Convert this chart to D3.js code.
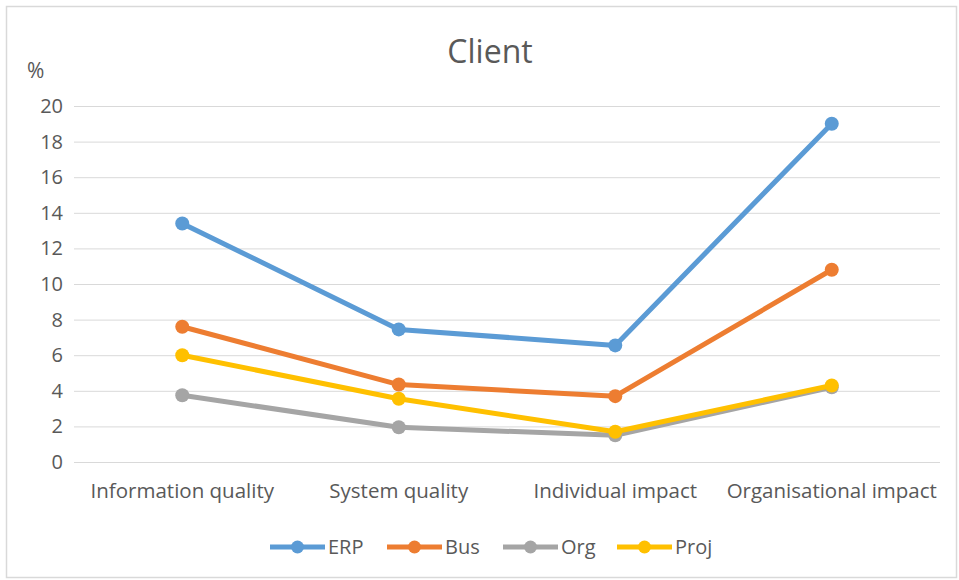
<!DOCTYPE html>
<html>
<head>
<meta charset="utf-8">
<script src="https://cdnjs.cloudflare.com/ajax/libs/d3/7.8.5/d3.min.js"></script>
<style>
  body { margin: 0; background: #fff; }
  text { font-family: "Open Sans", "Liberation Sans", sans-serif; fill: #595959; }
</style>
</head>
<body>
<div id="chart"></div>
<script>
// values
var categories = ["Information quality", "System quality", "Individual impact", "Organisational impact"];
var seriesNames = ["ERP", "Bus", "Org", "Proj"];
var erp = [13.4, 7.45, 6.55, 19.0];
var bus = [7.6, 4.35, 3.7, 10.8];
var org = [3.75, 1.95, 1.5, 4.2];
var proj = [6.0, 3.55, 1.7, 4.3];
var yTicks = [0, 2, 4, 6, 8, 10, 12, 14, 16, 18, 20];
var colors = ["#5b9bd5", "#ed7d31", "#a5a5a5", "#ffc000"];

var series = [erp, bus, org, proj].map(function(v, i) {
  return { name: seriesNames[i], values: v, color: colors[i] };
});

var W = 959, H = 580;
var margin = { top: 106, right: 19, bottom: 118, left: 74 };
var width = W - margin.left - margin.right,
    height = H - margin.top - margin.bottom;

var svg = d3.select("#chart").append("svg")
  .attr("width", W)
  .attr("height", H);

// chart border
svg.append("rect")
  .attr("x", 6.5).attr("y", 6.5)
  .attr("width", W - 9).attr("height", H - 9)
  .attr("fill", "none")
  .attr("stroke", "#d9d9d9")
  .attr("stroke-width", 1.5);

var g = svg.append("g")
  .attr("transform", "translate(" + margin.left + "," + margin.top + ")");

var x = d3.scaleBand().domain(categories).range([0, width]);
var y = d3.scaleLinear().domain([0, 20]).range([height, 0]);

// gridlines
g.append("g")
  .selectAll("line")
  .data(yTicks)
  .enter().append("line")
  .attr("x1", 0).attr("x2", width)
  .attr("y1", function(d) { return y(d) + 0.5; })
  .attr("y2", function(d) { return y(d) + 0.5; })
  .attr("stroke", "#d9d9d9")
  .attr("stroke-width", 1);

// y axis labels
var yAxis = d3.axisLeft(y).tickValues(yTicks).tickSize(0).tickPadding(11);
g.append("g").call(yAxis)
  .call(function(s) { s.select(".domain").remove(); })
  .selectAll("text")
  .style("font-size", "20px")
  .style("font-family", "'Open Sans', sans-serif")
  .attr("fill", "#595959");

// x axis labels
var xAxis = d3.axisBottom(x).tickSize(0).tickPadding(21);
g.append("g")
  .attr("transform", "translate(0," + height + ")")
  .call(xAxis)
  .call(function(s) { s.select(".domain").remove(); })
  .selectAll("text")
  .style("font-size", "20.5px")
  .style("font-family", "'Open Sans', sans-serif")
  .attr("fill", "#595959");

// title and unit
svg.append("text")
  .attr("x", 490).attr("y", 63)
  .attr("text-anchor", "middle")
  .style("font-size", "32px")
  .text("Client");

svg.append("text")
  .attr("x", 27).attr("y", 78)
  .style("font-size", "21px")
  .attr("fill", "#404040")
  .text("%");

var cx = function(i) { return x(categories[i]) + x.bandwidth() / 2; };

var line = d3.line()
  .x(function(d, i) { return cx(i); })
  .y(function(d) { return y(d); });

var sg = g.selectAll(".series")
  .data(series)
  .enter().append("g")
  .attr("class", "series");

sg.append("path")
  .attr("d", function(d) { return line(d.values); })
  .attr("fill", "none")
  .attr("stroke", function(d) { return d.color; })
  .attr("stroke-width", 5)
  .attr("stroke-linejoin", "round");

sg.selectAll("circle")
  .data(function(d) { return d.values.map(function(v) { return { v: v, c: d.color }; }); })
  .enter().append("circle")
  .attr("cx", function(d, i) { return cx(i); })
  .attr("cy", function(d) { return y(d.v); })
  .attr("r", 7)
  .attr("fill", function(d) { return d.c; });

// legend
var legendX = [270, 387, 503, 617];
var lg = svg.append("g").selectAll("g")
  .data(series)
  .enter().append("g")
  .attr("transform", function(d, i) { return "translate(" + legendX[i] + ",547)"; });

lg.append("line")
  .attr("x1", 0).attr("x2", 55)
  .attr("stroke", function(d) { return d.color; })
  .attr("stroke-width", 5);

lg.append("circle")
  .attr("cx", 27.5).attr("r", 6.5)
  .attr("fill", function(d) { return d.color; });

lg.append("text")
  .attr("x", 58).attr("y", 7)
  .style("font-size", "20px")
  .text(function(d) { return d.name; });
</script>
</body>
</html>
